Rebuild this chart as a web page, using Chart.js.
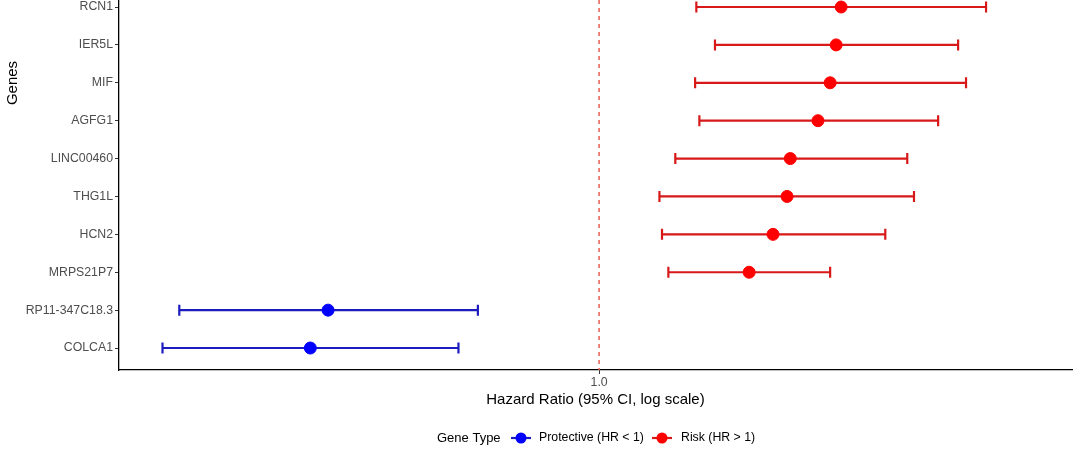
<!DOCTYPE html>
<html>
<head>
<meta charset="utf-8">
<script src="https://cdn.jsdelivr.net/npm/chart.js@4/dist/chart.umd.min.js"></script>
<style>
  html, body { margin: 0; padding: 0; background: #fff; }
  #wrap { position: relative; width: 1080px; height: 459px; }
</style>
</head>
<body>
<div id="wrap"><canvas id="myChart" width="1080" height="459"></canvas></div>
<script>
// Genes from top to bottom, with hazard ratio and 95% CI
const genes = ['RCN1', 'IER5L', 'MIF', 'AGFG1', 'LINC00460', 'THG1L', 'HCN2', 'MRPS21P7', 'RP11-347C18.3', 'COLCA1'];
const hr    = [1.413, 1.403, 1.391, 1.367, 1.314, 1.308, 1.282, 1.239, 0.679, 0.662];
const lower = [1.149, 1.180, 1.147, 1.154, 1.115, 1.090, 1.094, 1.104, 0.549, 0.536];
const upper = [1.738, 1.670, 1.689, 1.623, 1.553, 1.568, 1.505, 1.391, 0.841, 0.818];
const xTicks = [1.0];

const FONT = "'Liberation Sans', Arial, Helvetica, sans-serif";
const colors = {
    protective: { point: 'rgb(0, 0, 255)', bar: 'rgb(28, 28, 190)' },
    risk: { point: 'rgb(255, 0, 0)', bar: 'rgb(215, 25, 25)' }
};

const protectivePts = [];
const riskPts = [];
genes.forEach((g, i) => {
    const p = { x: hr[i], y: i };
    if (hr[i] < 1) protectivePts.push(p); else riskPts.push(p);
});

// Error bars with caps + reference line at HR = 1
const forestPlugin = {
    id: 'forest',
    beforeDatasetsDraw(chart) {
        const { ctx, chartArea, scales: { x, y } } = chart;
        ctx.save();
        // dashed reference line
        const x1 = x.getPixelForValue(1);
        ctx.strokeStyle = 'rgb(235, 95, 80)';
        ctx.lineWidth = 1.5;
        ctx.setLineDash([4, 4]);
        ctx.beginPath();
        ctx.moveTo(x1, chartArea.top);
        ctx.lineTo(x1, chartArea.bottom);
        ctx.stroke();
        ctx.setLineDash([]);
        // error bars
        ctx.lineWidth = 2.2;
        genes.forEach((g, i) => {
            const c = hr[i] < 1 ? colors.protective.bar : colors.risk.bar;
            const yy = y.getPixelForValue(i);
            const xl = x.getPixelForValue(lower[i]);
            const xu = x.getPixelForValue(upper[i]);
            ctx.strokeStyle = c;
            ctx.beginPath();
            ctx.moveTo(xl, yy);
            ctx.lineTo(xu, yy);
            ctx.moveTo(xl, yy - 5.5);
            ctx.lineTo(xl, yy + 5.5);
            ctx.moveTo(xu, yy - 5.5);
            ctx.lineTo(xu, yy + 5.5);
            ctx.stroke();
        });
        ctx.restore();
    },
    afterDraw(chart) {
        const ctx = chart.ctx;
        ctx.save();
        // y axis title (panel centre lies above the visible area)
        ctx.translate(13, 83);
        ctx.rotate(-Math.PI / 2);
        ctx.textAlign = 'center';
        ctx.textBaseline = 'middle';
        ctx.fillStyle = '#000';
        ctx.font = '15px ' + FONT;
        ctx.fillText('Genes', 0, 0);
        ctx.restore();

        // ggplot-style legend: title inline with keys
        const ly = 438;
        ctx.save();
        ctx.textBaseline = 'middle';
        ctx.textAlign = 'left';
        ctx.fillStyle = '#000';
        ctx.font = '13px ' + FONT;
        ctx.fillText('Gene Type', 437, ly);
        const keys = [
            { cx: 521, tx: 539, label: 'Protective (HR < 1)', c: colors.protective },
            { cx: 662, tx: 681, label: 'Risk (HR > 1)', c: colors.risk }
        ];
        keys.forEach(k => {
            ctx.strokeStyle = k.c.bar;
            ctx.lineWidth = 2.2;
            ctx.beginPath();
            ctx.moveTo(k.cx - 10, ly);
            ctx.lineTo(k.cx + 10, ly);
            ctx.stroke();
            ctx.fillStyle = k.c.point;
            ctx.beginPath();
            ctx.arc(k.cx, ly, 5.5, 0, Math.PI * 2);
            ctx.fill();
            ctx.fillStyle = '#000';
            ctx.font = '12.3px ' + FONT;
            ctx.fillText(k.label, k.tx, ly);
        });
        ctx.restore();
    }
};

const config = {
    type: 'scatter',
    data: {
        datasets: [{
            label: 'Protective (HR < 1)',
            data: protectivePts,
            backgroundColor: colors.protective.point,
            borderColor: colors.protective.point,
            pointRadius: 6,
            pointHoverRadius: 6,
            clip: false
        }, {
            label: 'Risk (HR > 1)',
            data: riskPts,
            backgroundColor: colors.risk.point,
            borderColor: colors.risk.point,
            pointRadius: 6,
            pointHoverRadius: 6,
            clip: false
        }]
    },
    options: {
        responsive: false,
        animation: false,
        layout: { autoPadding: false, padding: { left: 0, right: 8, top: 0, bottom: 0 } },
        scales: {
            x: {
                type: 'logarithmic',
                min: 0.5037,
                max: 1.965,
                afterBuildTicks: (scale) => { scale.ticks = xTicks.map(v => ({ value: v })); },
                afterFit: (scale) => {
                    scale.height = 89;
                    scale.paddingLeft = 0;
                    scale.paddingRight = 0;
                },
                ticks: {
                    callback: (v) => Number(v).toFixed(1),
                    color: '#4d4d4d',
                    font: { family: FONT, size: 12.3 },
                    padding: 1,
                    maxRotation: 0
                },
                grid: { drawOnChartArea: false, drawTicks: true, tickLength: 4, color: '#333' },
                border: { display: true, color: '#000', width: 1.3 },
                title: {
                    display: true,
                    text: 'Hazard Ratio (95% CI, log scale)',
                    color: '#000',
                    font: { family: FONT, size: 15 },
                    padding: { top: 0, bottom: 50 }
                }
            },
            y: {
                type: 'linear',
                reverse: true,
                min: -0.185,
                max: 9.58,
                afterBuildTicks: (scale) => { scale.ticks = genes.map((g, i) => ({ value: i })); },
                afterFit: (scale) => {
                    scale.width = 119;
                    scale.paddingTop = 0;
                    scale.paddingBottom = 0;
                },
                ticks: {
                    callback: (v) => genes[v],
                    color: '#4d4d4d',
                    font: { family: FONT, size: 12.3 },
                    padding: 2
                },
                grid: { drawOnChartArea: false, drawTicks: true, tickLength: 4, color: '#333' },
                border: { display: true, color: '#000', width: 1.3 },
                title: { display: false }
            }
        },
        plugins: {
            legend: { display: false },
            tooltip: { enabled: false }
        }
    },
    plugins: [forestPlugin]
};

const context = document.getElementById('myChart').getContext('2d');
const myChart = new Chart(context, config);
</script>
</body>
</html>
